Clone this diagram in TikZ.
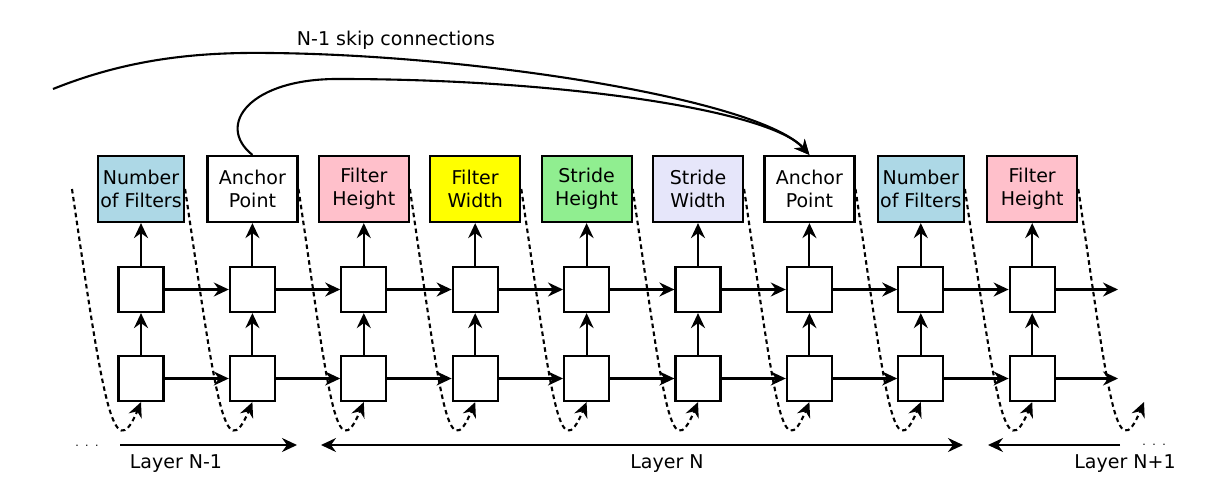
\documentclass[tikz,border=0pt]{standalone}
\usepackage{fontspec}
\setmainfont{DejaVu Sans}
\usetikzlibrary{arrows.meta}
\definecolor{nof}{HTML}{ADD8E6}
\definecolor{fh}{HTML}{FFC0CB}
\definecolor{fw}{HTML}{FFFF00}
\definecolor{sh}{HTML}{90EE90}
\definecolor{sw}{HTML}{E6E6FA}
\begin{document}
\begin{tikzpicture}[x=1pt,y=-1pt,
  tipa/.tip={Stealth[length=15pt,width=14pt,inset=5pt]},
  param/.style={draw,line width=2.2pt,minimum width=90pt,minimum height=66pt,inner sep=1pt,align=center,font=\fontsize{19}{23}\selectfont},
  cell/.style={draw,line width=2.2pt,minimum size=45pt,inner sep=0pt,fill=white},
  flow/.style={line width=2.1pt,-tipa},
  twoway/.style={line width=2.1pt,tipa-tipa},
  skip/.style={line width=2.1pt,dash pattern=on 4.5pt off 3.5pt,-tipa},
  lbl/.style={font=\fontsize{19}{22}\selectfont,anchor=base,inner sep=0pt},
  dots/.style={font=\fontsize{11}{11}\selectfont,anchor=base,inner sep=0pt},
]
\useasboundingbox (0,0) rectangle (1227,491);

% parameter boxes
\node[param,fill=nof,minimum width=86pt] (p1) at (141,189) {Number\\of Filters};
\node[param] (p2) at (252.4,189) {Anchor\\Point};
\node[param,fill=fh] (p3) at (363.8,189) {Filter\\Height};
\node[param,fill=fw] (p4) at (475.2,189) {Filter\\Width};
\node[param,fill=sh] (p5) at (586.6,189) {Stride\\Height};
\node[param,fill=sw] (p6) at (698,189) {Stride\\Width};
\node[param] (p7) at (809.4,189) {Anchor\\Point};
\node[param,fill=nof,minimum width=86pt] (p8) at (920.8,189) {Number\\of Filters};
\node[param,fill=fh] (p9) at (1032.2,189) {Filter\\Height};

% cells
\foreach \i/\x in {1/141,2/252.4,3/363.8,4/475.2,5/586.6,6/698,7/809.4,8/920.8,9/1032.2}{
  \node[cell] (u\i) at (\x,289.5) {};
  \node[cell] (l\i) at (\x,378.5) {};
}

\foreach \i in {1,...,9}{
  \draw[flow] (u\i) -- (p\i);
  \draw[flow] (l\i) -- (u\i);
}
\foreach \i/\j in {1/2,2/3,3/4,4/5,5/6,6/7,7/8,8/9}{
  \draw[flow] (u\i) -- (u\j);
  \draw[flow] (l\i) -- (l\j);
}
\coordinate (uout) at (1118,289.5);
\coordinate (lout) at (1118,378.5);
\draw[flow] (u9) -- (uout);
\draw[flow] (l9) -- (lout);

% dashed connections between layers
\coordinate (s0) at (72,189);
\coordinate (e10) at (1144,402);
\draw[skip] (s0) .. controls +(31,212) and +(-28,67) .. (l1.south);
\foreach \i/\j in {1/2,2/3,3/4,4/5,5/6,6/7,7/8,8/9}{
  \draw[skip] (p\i.east) .. controls +(31,212) and +(-28,67) .. (l\j.south);
}
\draw[skip] (p9.east) .. controls +(31,212) and +(-28,67) .. (e10);

% skip connections
\coordinate (sk) at (53,89);
\draw[flow] (sk) .. controls (130,58) and (200,52) .. (270,53) .. controls (480,55) and (760,100) .. (p7.north);
\draw[flow] (p2.north) .. controls (215,125) and (250,78) .. (340,79) .. controls (560,79) and (770,110) .. (p7.north);
\node[lbl] (sklbl) at (396,45) {N-1 skip connections};

% layer spans
\coordinate (a1s) at (120,445);
\coordinate (a1e) at (297,445);
\coordinate (a2s) at (321,445);
\coordinate (a2e) at (963,445);
\coordinate (a3s) at (1120,445);
\coordinate (a3e) at (988,445);
\draw[flow] (a1s) -- (a1e);
\draw[twoway] (a2s) -- (a2e);
\draw[flow] (a3s) -- (a3e);
\node[lbl] (ln1) at (176,468) {Layer N-1};
\node[lbl] (ln) at (667,468) {Layer N};
\node[lbl] (ln2) at (1125,468) {Layer N+1};
\node[dots] (dl) at (87,446) {.\hspace{6.5pt}.\hspace{6.5pt}.};
\node[dots] (dr) at (1154,445) {.\hspace{6.5pt}.\hspace{6.5pt}.};
\end{tikzpicture}
\end{document}
